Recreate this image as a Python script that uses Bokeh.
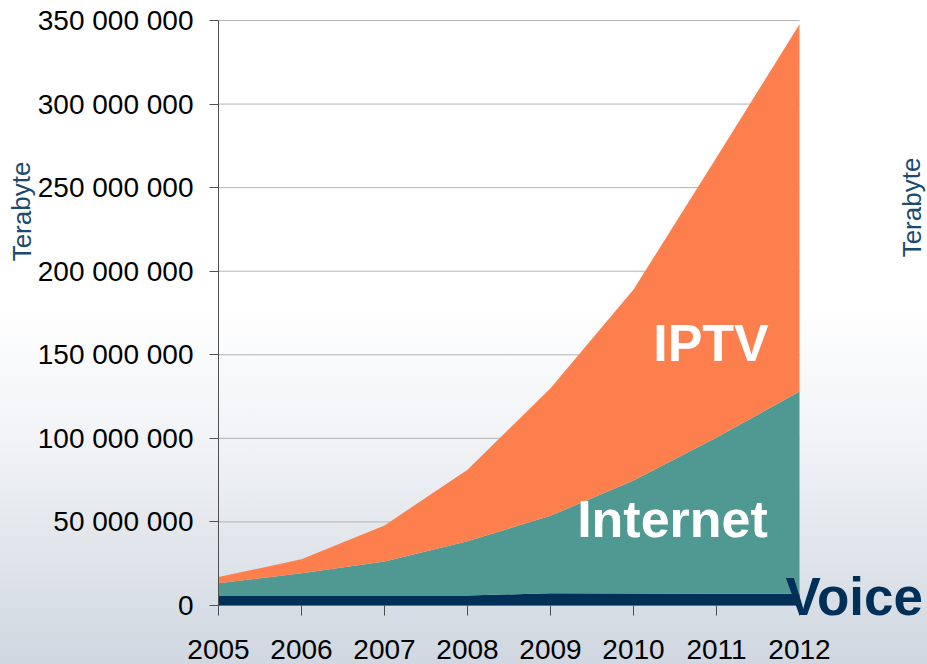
from bokeh.plotting import figure
from bokeh.models import ColumnDataSource, FixedTicker, Label
from bokeh.embed import file_html
from bokeh.resources import INLINE

# ---- data (Terabyte) ----
years = [2005, 2006, 2007, 2008, 2009, 2010, 2011, 2012]
voice = [6_000_000, 6_000_000, 6_000_000, 6_000_000, 7_300_000, 7_200_000, 7_100_000, 7_000_000]
internet = [7_300_000, 13_300_000, 20_300_000, 32_500_000, 46_400_000, 67_600_000, 93_400_000, 121_000_000]
iptv = [3_700_000, 8_400_000, 21_600_000, 42_700_000, 76_300_000, 114_200_000, 167_500_000, 219_700_000]

y_ticks = [0, 50_000_000, 100_000_000, 150_000_000, 200_000_000, 250_000_000, 300_000_000, 350_000_000]
y_tick_labels = ["0", "50 000 000", "100 000 000", "150 000 000", "200 000 000",
                 "250 000 000", "300 000 000", "350 000 000"]
x_tick_labels = [str(y) for y in years]

NAVY = "#003057"
TEAL = "#509892"
ORANGE = "#fe7f4e"
FONT = "Liberation Sans"

# ---- layout: the frame covers the whole canvas; axes are fixed inside it ----
W, H = 927, 664
X0_PX, X1_PX = 218, 799      # pixel columns of first / last year
Y0_PX, Y1_PX = 605, 20       # pixel rows of 0 / top tick
xs = (X1_PX - X0_PX) / (years[-1] - years[0])
ys = (Y0_PX - Y1_PX) / y_ticks[-1]
x_start = years[0] - X0_PX / xs
x_end = years[0] + (W - X0_PX) / xs
y_end = y_ticks[-1] + Y1_PX / ys
y_start = y_ticks[0] - (H - Y0_PX) / ys


def px_x(px):
    return x_start + px / xs


def px_y(py):
    return y_end - py / ys


src = ColumnDataSource(dict(year=years, voice=voice, internet=internet, iptv=iptv))

p = figure(width=W, height=H, output_backend="svg", toolbar_location=None,
           x_range=(x_start, x_end), y_range=(y_start, y_end),
           min_border_left=0, min_border_right=0, min_border_top=0, min_border_bottom=0,
           background_fill_alpha=0, border_fill_alpha=0)
p.styles = {"background": "linear-gradient(to bottom, #ffffff 0%, #ffffff 46%, #f1f3f6 66%, #d0d7e0 100%)"}
p.outline_line_color = None
p.xgrid.visible = False
p.ygrid.visible = False

# horizontal grid lines between first and last year
p.segment(x0=[years[0]] * len(y_ticks), x1=[years[-1]] * len(y_ticks), y0=y_ticks, y1=y_ticks,
          line_color="#b4b4b4", line_width=1)

p.varea_stack(stackers=["voice", "internet", "iptv"], x="year",
              color=[NAVY, TEAL, ORANGE], source=src)

# y axis
p.yaxis.fixed_location = years[0]
p.yaxis.bounds = (y_ticks[0], y_ticks[-1])
p.yaxis.ticker = FixedTicker(ticks=y_ticks)
p.yaxis.major_label_overrides = dict(zip(y_ticks, y_tick_labels))
p.yaxis.major_label_text_font = FONT
p.yaxis.major_label_text_font_size = "28px"
p.yaxis.major_label_text_color = "#000000"
p.yaxis.major_label_standoff = 16
p.yaxis.major_tick_out = 9
p.yaxis.major_tick_in = 0
p.yaxis.minor_tick_line_color = None
p.yaxis.axis_line_color = "#505050"
p.yaxis.major_tick_line_color = "#505050"

# x axis
p.xaxis.fixed_location = y_ticks[0]
p.xaxis.bounds = (years[0], years[-1])
p.xaxis.ticker = FixedTicker(ticks=years)
p.xaxis.major_label_overrides = dict(zip(years, x_tick_labels))
p.xaxis.major_label_text_font = FONT
p.xaxis.major_label_text_font_size = "28px"
p.xaxis.major_label_text_color = "#000000"
p.xaxis.major_label_standoff = 24
p.xaxis.major_tick_out = 10
p.xaxis.major_tick_in = 0
p.xaxis.minor_tick_line_color = None
p.xaxis.axis_line_color = None
p.xaxis.major_tick_line_color = "#505050"

# axis titles "Terabyte" (left and right)
for cx, cy in ((21, 211), (911, 207)):
    p.add_layout(Label(x=px_x(cx), y=px_y(cy), text="Terabyte", angle=1.5708,
                       text_align="center", text_baseline="middle",
                       text_font=FONT, text_font_size="26px", text_color="#1b4a6e"))

# series labels
p.add_layout(Label(x=px_x(710.5), y=px_y(342), text="IPTV", text_align="center",
                   text_baseline="alphabetic", text_font=FONT, text_font_size="52px",
                   text_font_style="bold", text_color="#ffffff"))
p.add_layout(Label(x=px_x(672), y=px_y(518), text="Internet", text_align="center",
                   text_baseline="alphabetic", text_font=FONT, text_font_size="52px",
                   text_font_style="bold", text_color="#ffffff"))
p.add_layout(Label(x=px_x(785), y=px_y(596), text="Voice", text_align="left",
                   text_baseline="alphabetic", text_font=FONT, text_font_size="53px",
                   text_font_style="bold", text_color=NAVY))

open("out.html", "w").write(file_html(p, INLINE))
